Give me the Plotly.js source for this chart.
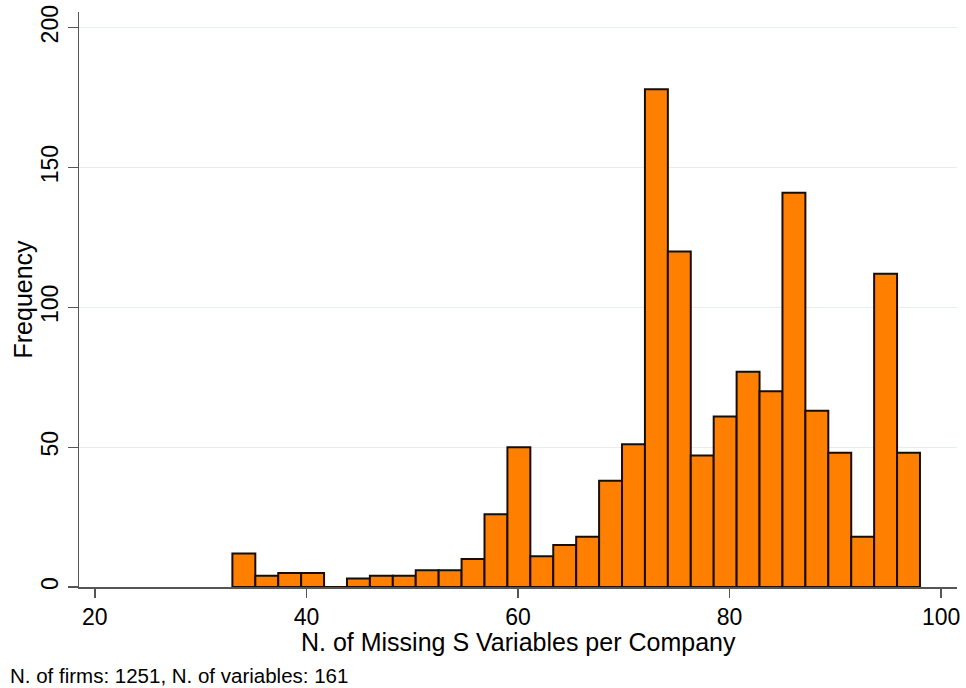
<!DOCTYPE html>
<html>
<head>
<meta charset="utf-8">
<script src="https://cdn.plot.ly/plotly-3.0.1.min.js"></script>
<style>
  html, body { margin: 0; padding: 0; background: #ffffff; }
  #chart { width: 966px; height: 688px; }
</style>
</head>
<body>
<div id="chart"></div>
<script>
// Histogram bins (Stata-style: 30 equal bins from min to max)
const binStart = 33;
const binEnd = 98;
const counts = [12, 4, 5, 5, 0, 3, 4, 4, 6, 6, 10, 26, 50, 11, 15, 18, 38, 51,
                178, 120, 47, 61, 77, 70, 141, 63, 48, 18, 112, 48];
const xTickVals = [20, 40, 60, 80, 100];
const yTickVals = [0, 50, 100, 150, 200];
const yTickText = ["0", "50", "100", "150", "200"];
const xTitle = "N. of Missing S Variables per Company";
const yTitle = "Frequency";
const noteText = "N. of firms: 1251, N. of variables: 161";

const binWidth = (binEnd - binStart) / counts.length;
const centers = counts.map((_, i) => binStart + (i + 0.5) * binWidth);

const FONT = "Liberation Sans, Arial, sans-serif";

const trace = {
  type: "bar",
  x: centers,
  y: counts,
  width: counts.map(() => binWidth),
  marker: {
    color: "#ff8000",
    line: { color: "#1a0d00", width: 2 }
  },
  hoverinfo: "x+y"
};

const layout = {
  width: 966,
  height: 688,
  margin: { l: 79, r: 9, t: 12, b: 101 },
  paper_bgcolor: "#ffffff",
  plot_bgcolor: "#ffffff",
  showlegend: false,
  bargap: 0,
  font: { family: FONT, color: "#000000", size: 23 },
  xaxis: {
    range: [18.5, 101.5],
    tickmode: "array",
    tickvals: xTickVals,
    ticktext: xTickVals.map(String),
    ticks: "outside",
    ticklen: 9,
    tickwidth: 1.3,
    tickcolor: "#555555",
    showline: true,
    linecolor: "#555555",
    linewidth: 1.5,
    showgrid: false,
    zeroline: false,
    tickfont: { family: FONT, size: 23, color: "#000000" }
  },
  yaxis: {
    range: [0, 205.6],
    tickmode: "array",
    tickvals: yTickVals,
    ticktext: yTickText,
    tickangle: -90,
    ticks: "outside",
    ticklen: 10,
    tickwidth: 1.3,
    tickcolor: "#555555",
    showline: true,
    linecolor: "#555555",
    linewidth: 1.5,
    showgrid: true,
    gridcolor: "#e6eeef",
    gridwidth: 1.3,
    zeroline: false,
    tickfont: { family: FONT, size: 23, color: "#000000" }
  },
  annotations: [
    {
      text: xTitle,
      xref: "paper", yref: "paper",
      x: 0.5, y: 0,
      xanchor: "center", yanchor: "middle",
      yshift: -55,
      showarrow: false,
      font: { family: FONT, size: 25, color: "#000000" }
    },
    {
      text: yTitle,
      xref: "paper", yref: "paper",
      x: 0, y: 0.5,
      xanchor: "center", yanchor: "middle",
      xshift: -57,
      textangle: -90,
      showarrow: false,
      font: { family: FONT, size: 25, color: "#000000" }
    },
    {
      text: noteText,
      xref: "paper", yref: "paper",
      x: 0, y: 0,
      xanchor: "left", yanchor: "middle",
      xshift: -71,
      yshift: -88,
      showarrow: false,
      font: { family: FONT, size: 20.5, color: "#000000" }
    }
  ]
};

Plotly.newPlot("chart", [trace], layout, { displayModeBar: false, staticPlot: true });
</script>
</body>
</html>
